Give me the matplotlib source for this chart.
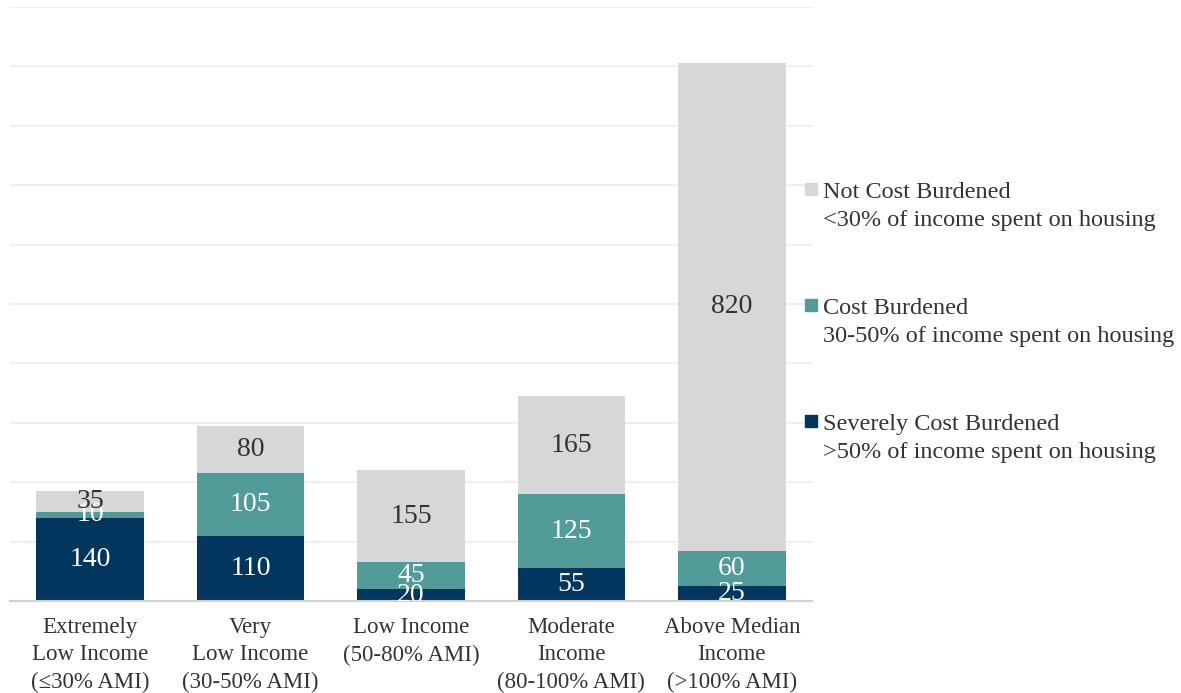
import numpy as np
from matplotlib import pyplot as plt
from matplotlib.patches import Rectangle

categories = ['Extremely\nLow Income\n(≤30% AMI)',
              'Very\nLow Income\n(30-50% AMI)',
              'Low Income\n(50-80% AMI)',
              'Moderate\nIncome\n(80-100% AMI)',
              'Above Median\nIncome\n(>100% AMI)']
severe = [140, 110, 20, 55, 25]
burdened = [10, 105, 45, 125, 60]
not_burdened = [35, 80, 155, 165, 820]

series_names = ['Severely Cost Burdened', 'Cost Burdened', 'Not Cost Burdened']
series_notes = ['>50% of income spent on housing',
                '30-50% of income spent on housing',
                '<30% of income spent on housing']
colors = ['#03365f', '#519c99', '#d6d7d9']
text_colors = ['white', 'white', '#333333']

plt.rcParams['font.family'] = ['Liberation Serif', 'DejaVu Serif']

fig = plt.figure(figsize=(11.81, 6.93), dpi=100)
ax = fig.add_axes([10 / 1181, 92 / 693, 802 / 1181, 594 / 693])

x = np.arange(len(categories))
bottom = np.zeros(len(categories))
for vals, col, tcol in zip([severe, burdened, not_burdened], colors, text_colors):
    vals = np.array(vals, dtype=float)
    ax.bar(x, vals, bottom=bottom, width=0.67, color=col, zorder=2)
    for xi, b, v in zip(x, bottom, vals):
        ax.text(xi, b + v / 2, f'{int(v)}', ha='center', va='center',
                color=tcol, fontsize=20, zorder=3, clip_on=True)
    bottom += vals

ax.set_xlim(-0.5, 4.5)
ax.set_ylim(0, 1000)
ax.set_yticks(np.arange(0, 1001, 100))
ax.yaxis.grid(True, color='#efefef', linewidth=1.5, zorder=0)
ax.tick_params(axis='y', left=False, labelleft=False)
ax.set_xticks(x)
ax.set_xticklabels(categories, fontsize=16.5, color='#333333', linespacing=1.4)
ax.tick_params(axis='x', bottom=False, pad=8)
for s in ['top', 'right', 'left']:
    ax.spines[s].set_visible(False)
ax.spines['bottom'].set_color('#d0d0d0')
ax.spines['bottom'].set_linewidth(1.5)

# legend drawn by hand: square + two-line label
W, H = 1181, 693
legend_y = [450, 334, 218]  # baseline of second line, bottom to top order
for name, note, col, ly in zip(series_names, series_notes, colors, legend_y):
    fig.add_artist(Rectangle((805 / W, 1 - (ly - 23) / H), 12 / W, 12 / H,
                             transform=fig.transFigure, color=col))
    fig.text(823 / W, 1 - (ly - 20) / H, name, fontsize=17.5, color='#333333',
             va='baseline')
    fig.text(823 / W, 1 - (ly + 8) / H, note, fontsize=17.5, color='#333333',
             va='baseline')

fig.savefig('out.png', dpi=100)
